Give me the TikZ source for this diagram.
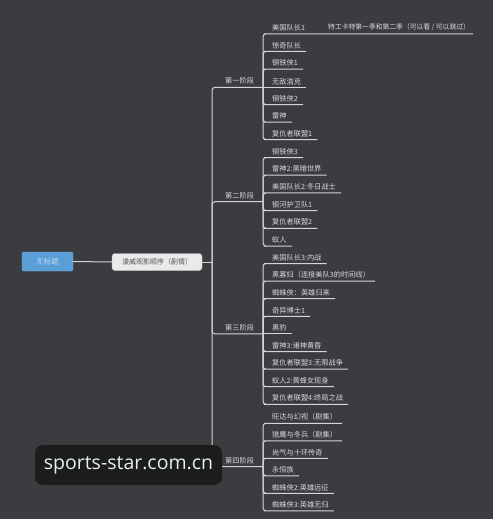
\documentclass[tikz,border=0pt]{standalone}
\usepackage{fontspec}
\setmainfont{Noto Sans CJK SC}
\newfontfamily\wmfont{Open Sans}
\definecolor{bg}{HTML}{3B3C40}
\definecolor{ln}{HTML}{D6D6D6}
\definecolor{txt}{HTML}{DADADA}
\definecolor{rootfill}{HTML}{5A9ED8}
\definecolor{rootedge}{HTML}{78B4E6}
\definecolor{roottxt}{HTML}{B8D8F2}
\definecolor{nfill}{HTML}{EAEAEA}
\definecolor{nedge}{HTML}{BDBDBD}
\definecolor{ntxt}{HTML}{555555}
\definecolor{wmfill}{HTML}{1C1C1B}
\definecolor{wmtxt}{HTML}{E2F2EF}
\begin{document}
\begin{tikzpicture}[x=1pt,y=-1pt,
  leaf/.style={anchor=south west, inner xsep=5pt, inner ysep=2.5pt, text=txt, font=\fontsize{7.2}{8}\selectfont},
  conn/.style={draw=ln, line width=1pt, rounded corners=3pt},
  rootbox/.style={draw=rootedge, fill=rootfill, rounded corners=2pt, minimum width=51pt, minimum height=19pt, inner sep=0pt, text=roottxt, font=\fontsize{7.5}{8}\selectfont},
  subbox/.style={draw=nedge, fill=nfill, rounded corners=3pt, minimum width=90pt, minimum height=17pt, inner sep=0pt, text=ntxt, font=\fontsize{7}{8}\selectfont},
  wmbox/.style={fill=wmfill, rounded corners=8pt, minimum width=187pt, minimum height=40pt, inner sep=0pt, text=wmtxt, font=\wmfont\fontsize{19.5}{21}\selectfont}
]
\fill[bg] (0,0) rectangle (493,519);
\useasboundingbox (0,0) rectangle (493,519);

% root and second level
\node[rootbox] (root) at (47.5,261.5) {无标题};
\node[subbox] (n2) at (157,262) {漫威观影顺序（剧情）};
\coordinate (j) at (212,262);
\draw[conn] (root.east) -- (n2.west);
\draw[conn] (n2.east) -- (j);

% ---------- stage 1 ----------
\node[leaf] (p1) at (220,87.3) {第一阶段};
\coordinate (s1) at (263,87.3);
\draw[conn] (j) |- (p1.south west) -- (s1);
\node[leaf] (a1) at (267,33.8) {美国队长1};
\node[leaf, inner xsep=3pt, font=\fontsize{6.8}{8}\selectfont] (a1b) at (325,33.8) {特工卡特第一季和第二季（可以看 / 可以跳过）};
\node[leaf] (a2) at (267,51.4) {惊奇队长};
\node[leaf] (a3) at (267,69.0) {钢铁侠1};
\node[leaf] (a4) at (267,87.3) {无敌浩克};
\node[leaf] (a5) at (267,104.6) {钢铁侠2};
\node[leaf] (a6) at (267,122.2) {雷神};
\node[leaf] (a7) at (267,139.6) {复仇者联盟1};
\draw[conn] (s1) |- (a1.south west) -- (a1.south east) -- (a1b.south west) -- (a1b.south east);
\draw[conn] (s1) |- (a2.south west) -- (a2.south east);
\draw[conn] (s1) |- (a3.south west) -- (a3.south east);
\draw[conn] (s1) -- (a4.south west) -- (a4.south east);
\draw[conn] (s1) |- (a5.south west) -- (a5.south east);
\draw[conn] (s1) |- (a6.south west) -- (a6.south east);
\draw[conn] (s1) |- (a7.south west) -- (a7.south east);

% ---------- stage 2 ----------
\node[leaf] (p2) at (220,201.7) {第二阶段};
\coordinate (s2) at (263,201.7);
\draw[conn] (j) |- (p2.south west) -- (s2);
\node[leaf] (b1) at (267,157.5) {钢铁侠3};
\node[leaf] (b2) at (267,175.2) {雷神2:黑暗世界};
\node[leaf] (b3) at (267,192.9) {美国队长2:冬日战士};
\node[leaf] (b4) at (267,210.6) {银河护卫队1};
\node[leaf] (b5) at (267,228.3) {复仇者联盟2};
\node[leaf] (b6) at (267,246.0) {蚁人};
\draw[conn] (s2) |- (b1.south west) -- (b1.south east);
\draw[conn] (s2) |- (b2.south west) -- (b2.south east);
\draw[conn] (s2) |- (b3.south west) -- (b3.south east);
\draw[conn] (s2) |- (b4.south west) -- (b4.south east);
\draw[conn] (s2) |- (b5.south west) -- (b5.south east);
\draw[conn] (s2) |- (b6.south west) -- (b6.south east);

% ---------- stage 3 ----------
\node[leaf] (p3) at (220,333.9) {第三阶段};
\coordinate (s3) at (263,333.9);
\draw[conn] (j) |- (p3.south west) -- (s3);
\node[leaf] (c1) at (267,263.5) {美国队长3:内战};
\node[leaf] (c2) at (267,281.1) {黑寡妇（连接美队3的时间线）};
\node[leaf] (c3) at (267,298.7) {蜘蛛侠：英雄归来};
\node[leaf] (c4) at (267,316.3) {奇异博士1};
\node[leaf] (c5) at (267,333.9) {黑豹};
\node[leaf] (c6) at (267,351.5) {雷神3:诸神黄昏};
\node[leaf] (c7) at (267,369.1) {复仇者联盟3:无限战争};
\node[leaf] (c8) at (267,386.7) {蚁人2:黄蜂女现身};
\node[leaf] (c9) at (267,404.3) {复仇者联盟4:终局之战};
\draw[conn] (s3) |- (c1.south west) -- (c1.south east);
\draw[conn] (s3) |- (c2.south west) -- (c2.south east);
\draw[conn] (s3) |- (c3.south west) -- (c3.south east);
\draw[conn] (s3) |- (c4.south west) -- (c4.south east);
\draw[conn] (s3) -- (c5.south west) -- (c5.south east);
\draw[conn] (s3) |- (c6.south west) -- (c6.south east);
\draw[conn] (s3) |- (c7.south west) -- (c7.south east);
\draw[conn] (s3) |- (c8.south west) -- (c8.south east);
\draw[conn] (s3) |- (c9.south west) -- (c9.south east);

% ---------- stage 4 ----------
\node[leaf] (p4) at (220,466.7) {第四阶段};
\coordinate (s4) at (263,466.7);
\draw[conn] (j) |- (p4.south west) -- (s4);
\node[leaf] (d1) at (267,423.3) {旺达与幻视（剧集）};
\node[leaf] (d2) at (267,440.8) {猎鹰与冬兵（剧集）};
\node[leaf] (d3) at (267,458.3) {尚气与十环传奇};
\node[leaf] (d4) at (267,475.8) {永恒族};
\node[leaf] (d5) at (267,493.3) {蜘蛛侠2:英雄远征};
\node[leaf] (d6) at (267,510.8) {蜘蛛侠3:英雄无归};
\draw[conn] (s4) |- (d1.south west) -- (d1.south east);
\draw[conn] (s4) |- (d2.south west) -- (d2.south east);
\draw[conn] (s4) |- (d3.south west) -- (d3.south east);
\draw[conn] (s4) |- (d4.south west) -- (d4.south east);
\draw[conn] (s4) |- (d5.south west) -- (d5.south east);
\draw[conn] (s4) |- (d6.south west) -- (d6.south east);

% watermark
\node[wmbox] (wm) at (128.5,465) {sports-star.com.cn};
\end{tikzpicture}
\end{document}
